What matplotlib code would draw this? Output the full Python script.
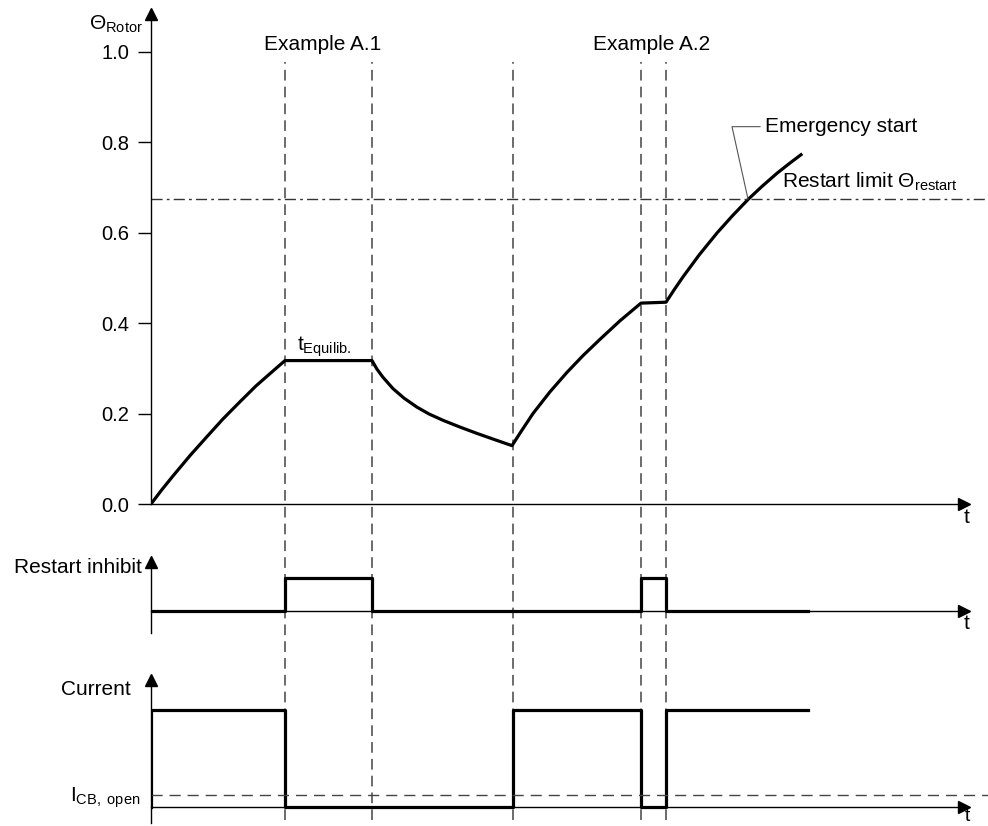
import numpy as np
import matplotlib
matplotlib.use("Agg")
import matplotlib.pyplot as plt

plt.rcParams['font.family'] = ['Liberation Sans', 'DejaVu Sans']
plt.rcParams['mathtext.fontset'] = 'custom'
plt.rcParams['mathtext.rm'] = 'Liberation Sans'
plt.rcParams['mathtext.it'] = 'Liberation Sans:italic'

# event times (switching instants)
events = [13.4, 22.1, 36.2, 49.0, 51.5]

# rotor temperature
theta_t = [0.0, 1.1, 2.2, 3.9, 5.6, 7.2, 8.9, 10.5, 12.2, 13.4,
           22.1, 22.6, 23.2, 24.2, 25.3, 26.6, 27.8, 29.2, 30.9, 32.6, 34.4, 36.1,
           37.0, 38.2, 39.9, 41.6, 43.2, 44.9, 46.9, 49.0,
           51.5, 52.3, 53.2, 54.8, 56.6, 58.1, 59.7, 61.1, 62.6, 63.8, 65.0]
theta_v = [0.0, 0.032, 0.062, 0.107, 0.149, 0.188, 0.226, 0.261, 0.294, 0.317,
           0.317, 0.298, 0.280, 0.255, 0.234, 0.214, 0.199, 0.185, 0.170, 0.156, 0.142, 0.129,
           0.160, 0.200, 0.248, 0.291, 0.328, 0.364, 0.405, 0.444,
           0.446, 0.473, 0.502, 0.550, 0.599, 0.636, 0.673, 0.702, 0.731, 0.752, 0.772]
restart_limit = 0.674
yticks = [0.0, 0.2, 0.4, 0.6, 0.8, 1.0]

# restart inhibit signal
inhibit_t = [0, 13.4, 22.1, 49.0, 51.5, 65.7]
inhibit_v = [0, 1, 0, 1, 0, 0]

# motor current
current_t = [0, 0, 13.4, 36.2, 49.0, 51.5, 65.7]
current_v = [0, 1, 0, 1, 0, 1, 1]
i_cb_open = 0.124

fig = plt.figure(figsize=(9.88, 8.26), dpi=100)
L = 151 / 988
XMAX = 81.3
W = XMAX * 10 / 988

def arrow_axes(ax, ybase):
    for s in ['top', 'right']:
        ax.spines[s].set_visible(False)
    ax.spines['bottom'].set_position(('data', ybase))
    ax.spines['left'].set_linewidth(1.0)
    ax.spines['bottom'].set_linewidth(1.0)
    ax.set_xlim(0, XMAX)
    ax.set_xticks([])
    ax.plot(1, ybase, '>k', ms=9, transform=ax.get_yaxis_transform(), clip_on=False)
    ax.plot(0, 1, '^k', ms=9, transform=ax.get_xaxis_transform(), clip_on=False)
    ax.patch.set_visible(False)
    ax.set_zorder(2)

# overlay for the dashed event lines
ov = fig.add_axes([L, 0, W, 1])
ov.set_xlim(0, XMAX)
ov.set_ylim(0, 1)
ov.axis('off')
ov.set_zorder(1)
ov.vlines(events, 0.007, 0.925, colors='#444444', linewidth=1.1,
          linestyles=(0, (7, 4)))

# top panel
ax1 = fig.add_axes([L, 322 / 826, W, 490 / 826])
arrow_axes(ax1, 0)
ax1.set_ylim(0, 1.083)
ax1.set_yticks(yticks)
ax1.set_yticklabels([f'{v:.1f}' for v in yticks])
ax1.tick_params(axis='y', direction='out', length=9.5, width=1, pad=6, labelsize=14.5)
ax1.plot(theta_t, theta_v, color='black', lw=2.3, solid_joinstyle='round')
ax1.plot([0, 83.7], [restart_limit, restart_limit], color='#333333', lw=1.0,
         linestyle=(0, (8, 3, 2, 3)), clip_on=False)
ax1.text(-0.8, 1.061, 'Θ$_{\\mathrm{Rotor}}$', ha='right', va='center', fontsize=15)
ax1.text(17.2, 1.015, 'Example A.1', ha='center', va='center', fontsize=15)
ax1.text(50.1, 1.015, 'Example A.2', ha='center', va='center', fontsize=15)
ax1.text(14.6, 0.338, 't$_{\\mathrm{Equilib.}}$', ha='left', va='baseline', fontsize=15)
ax1.text(61.4, 0.834, 'Emergency start', ha='left', va='center', fontsize=15)
ax1.plot([60.9, 58.1, 59.7], [0.834, 0.834, 0.674], color='#555555', lw=0.8)
ax1.text(63.1, 0.699, 'Restart limit Θ$_{\\mathrm{restart}}$', ha='left', va='baseline', fontsize=15)
ax1.text(81.6, -0.009, 't', ha='center', va='top', fontsize=15)

# middle panel: restart inhibit
ax2 = fig.add_axes([L, 193 / 826, W, 71 / 826])
arrow_axes(ax2, 0)
ax2.set_ylim(-0.667, 1.485)
ax2.set_yticks([])
ax2.step(inhibit_t, inhibit_v, where='post', color='black', lw=2.3)
ax2.text(-0.93, 1.33, 'Restart inhibit', ha='right', va='center', fontsize=15)
ax2.text(81.6, -0.09, 't', ha='center', va='top', fontsize=15)

# bottom panel: current
ax3 = fig.add_axes([L, 3 / 826, W, 143 / 826])
arrow_axes(ax3, 0)
ax3.set_ylim(-0.165, 1.309)
ax3.set_yticks([])
ax3.step(current_t, current_v, where='post', color='black', lw=2.3)
ax3.plot([0, 83.7], [i_cb_open, i_cb_open], color='#444444', lw=1.0,
         linestyle=(0, (8, 5)), clip_on=False)
ax3.text(-2.0, 1.216, 'Current', ha='right', va='center', fontsize=15)
ax3.text(-1.1, 0.055, 'I$_{\\mathrm{CB,\\ open}}$', ha='right', va='baseline', fontsize=15)
ax3.text(81.6, -0.01, 't', ha='center', va='top', fontsize=14)

fig.savefig('out.png', dpi=100)
